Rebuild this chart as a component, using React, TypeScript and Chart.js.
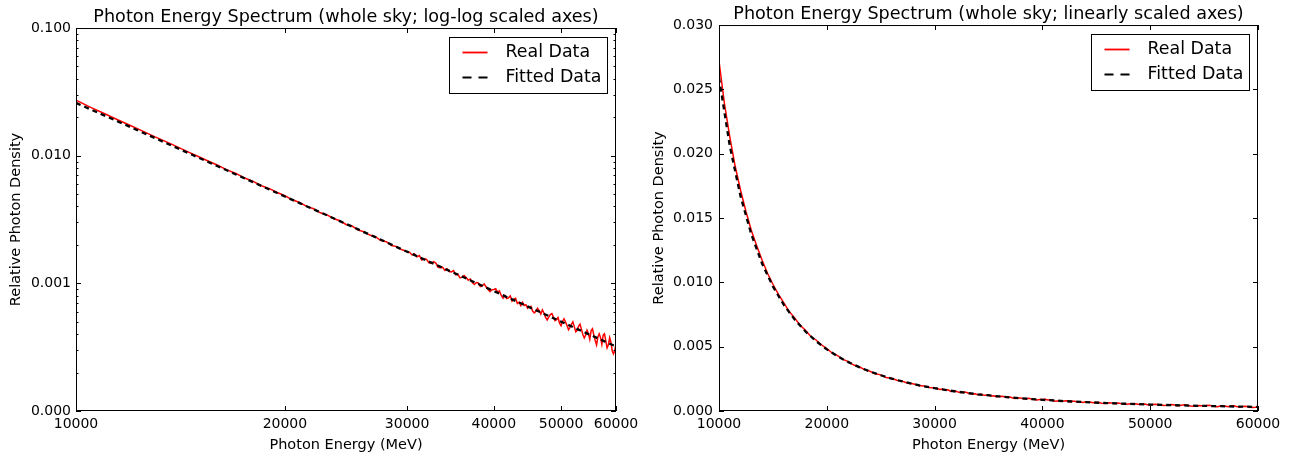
import React, { useEffect, useRef } from "react";
import { Chart, registerables } from "chart.js";

Chart.register(...registerables);

// ---------- data ----------
const energies = [
  10000, 10500, 11000, 11500, 12000, 12500, 13000, 13500, 14000, 14500,
  15000, 15500, 16000, 16500, 17000, 17500, 18000, 18500, 19000, 19500,
  20000, 20500, 21000, 21500, 22000, 22500, 23000, 23500, 24000, 24500,
  25000, 25500, 26000, 26500, 27000, 27500, 28000, 28500, 29000, 29500,
  30000, 30250, 30500, 30750, 31000, 31250, 31500, 31750, 32000, 32250,
  32500, 32750, 33000, 33250, 33500, 33750, 34000, 34250, 34500, 34750,
  35000, 35250, 35500, 35750, 36000, 36250, 36500, 36750, 37000, 37250,
  37500, 37750, 38000, 38250, 38500, 38750, 39000, 39250, 39500, 39750,
  40000, 40250, 40500, 40750, 41000, 41250, 41500, 41750, 42000, 42250,
  42500, 42750, 43000, 43250, 43500, 43750, 44000, 44250, 44500, 44750,
  45000, 45250, 45500, 45750, 46000, 46250, 46500, 46750, 47000, 47250,
  47500, 47750, 48000, 48250, 48500, 48750, 49000, 49250, 49500, 49750,
  50000, 50250, 50500, 50750, 51000, 51250, 51500, 51750, 52000, 52250,
  52500, 52750, 53000, 53250, 53500, 53750, 54000, 54250, 54500, 54750,
  55000, 55250, 55500, 55750, 56000, 56250, 56500, 56750, 57000, 57250,
  57500, 57750, 58000, 58250, 58500, 58750, 59000, 59250, 59500, 59750,
  60000,
];

const realDensity = [
  0.0272, 0.02392, 0.02131, 0.01902, 0.01716, 0.01551, 0.01403, 0.01284, 0.01172, 0.01071,
  0.00985, 0.00908, 0.00842, 0.00774, 0.00726, 0.00668, 0.00629, 0.00581, 0.00552, 0.00515,
  0.00485, 0.00451, 0.0043, 0.00401, 0.00384, 0.00357, 0.00344, 0.00322, 0.00309, 0.00289,
  0.00281, 0.00261, 0.00254, 0.00239, 0.00232, 0.00216, 0.00212, 0.00198, 0.00194, 0.00183,
  0.00178, 0.00175, 0.00167, 0.0017, 0.001614, 0.00165, 0.001523, 0.001555, 0.00154, 0.00145,
  0.001436, 0.00148, 0.00144, 0.001334, 0.001323, 0.001338, 0.001261, 0.0013, 0.001238, 0.00123,
  0.001258, 0.001166, 0.001182, 0.001104, 0.001119, 0.001154, 0.001112, 0.001059, 0.001082, 0.001014,
  0.000979, 0.001014, 0.001008, 0.000943, 0.000956, 0.000988, 0.000935, 0.000893, 0.000861, 0.000892,
  0.000896, 0.000908, 0.000852, 0.000873, 0.000803, 0.000766, 0.000802, 0.000759, 0.000771, 0.000797,
  0.000726, 0.000752, 0.000763, 0.000695, 0.000713, 0.000669, 0.000709, 0.000671, 0.000681, 0.000639,
  0.000657, 0.00066, 0.000607, 0.000587, 0.000604, 0.000638, 0.000612, 0.000574, 0.00062, 0.000583,
  0.000542, 0.000517, 0.000544, 0.00057, 0.000579, 0.000545, 0.000511, 0.00052, 0.00054, 0.000487,
  0.000466, 0.000505, 0.000528, 0.000497, 0.000467, 0.000433, 0.000452, 0.000478, 0.0005, 0.000458,
  0.000417, 0.000429, 0.000463, 0.000479, 0.000436, 0.000397, 0.000373, 0.000393, 0.000429, 0.000404,
  0.000364, 0.000426, 0.000441, 0.000391, 0.000356, 0.000329, 0.000381, 0.000403, 0.000376, 0.000333,
  0.000393, 0.000403, 0.000354, 0.000312, 0.00033, 0.000376, 0.000346, 0.000296, 0.00028, 0.000297,
  0.000336,
];

const fitEnergies = [
  10000, 11000, 12000, 13000, 14000, 15000, 16000, 17000, 18000, 19000,
  20000, 21000, 22000, 23000, 24000, 25000, 26000, 27000, 28000, 29000,
  30000, 32000, 34000, 36000, 38000, 40000, 42000, 44000, 46000, 48000,
  50000, 52000, 54000, 56000, 58000, 60000,
];

const fitDensity = [
  0.0259, 0.0206, 0.01668, 0.01372, 0.01145, 0.00968, 0.00827, 0.00713, 0.0062, 0.00543,
  0.00479, 0.00425, 0.0038, 0.00341, 0.00307, 0.00278, 0.00252, 0.0023, 0.0021, 0.00192,
  0.00177, 0.00151, 0.0013, 0.00113, 0.000988, 0.00087, 0.000771, 0.000688, 0.000616, 0.000555,
  0.000501, 0.000455, 0.000414, 0.000379, 0.000347, 0.00032,
];

const xTicks = [10000, 20000, 30000, 40000, 50000, 60000];
const logYTicks = [0.0001, 0.001, 0.01, 0.1];
const logYMinor = [
  0.0002, 0.0003, 0.0004, 0.0005, 0.0006, 0.0007, 0.0008, 0.0009,
  0.002, 0.003, 0.004, 0.005, 0.006, 0.007, 0.008, 0.009,
  0.02, 0.03, 0.04, 0.05, 0.06, 0.07, 0.08, 0.09,
];
const linYTicks = [0, 0.005, 0.01, 0.015, 0.02, 0.025, 0.03];

const seriesLabels = ["Real Data", "Fitted Data"];

// ---------- style ----------
const FAMILY = "'DejaVu Sans', 'Bitstream Vera Sans', sans-serif";

const framePlugin = {
  id: "frame",
  afterDraw(chart: any, _args: any, opts: any) {
    const { ctx, chartArea: a } = chart;
    const xs = chart.scales.x;
    const ys = chart.scales.y;
    ctx.save();
    ctx.strokeStyle = "#000";
    ctx.lineWidth = 1;
    ctx.strokeRect(a.left + 0.5, a.top + 0.5, a.right - a.left - 1, a.bottom - a.top - 1);
    const major = 5;
    const minor = 2.5;
    ctx.beginPath();
    for (const v of opts.xMajor || []) {
      const p = Math.round(xs.getPixelForValue(v)) + 0.5;
      ctx.moveTo(p, a.bottom);
      ctx.lineTo(p, a.bottom - major);
      ctx.moveTo(p, a.top);
      ctx.lineTo(p, a.top + major);
    }
    for (const v of opts.yMajor || []) {
      const p = Math.round(ys.getPixelForValue(v)) + 0.5;
      ctx.moveTo(a.left, p);
      ctx.lineTo(a.left + major, p);
      ctx.moveTo(a.right, p);
      ctx.lineTo(a.right - major, p);
    }
    for (const v of opts.yMinor || []) {
      const p = Math.round(ys.getPixelForValue(v)) + 0.5;
      ctx.moveTo(a.left, p);
      ctx.lineTo(a.left + minor, p);
      ctx.moveTo(a.right, p);
      ctx.lineTo(a.right - minor, p);
    }
    ctx.stroke();

    // legend box
    const w = 158;
    const h = 56;
    const bx = Math.round(a.right - 9 - w) + 0.5;
    const by = Math.round(a.top + 9) + 0.5;
    ctx.fillStyle = "#fff";
    ctx.fillRect(bx, by, w, h);
    ctx.strokeStyle = "#000";
    ctx.lineWidth = 1;
    ctx.strokeRect(bx, by, w, h);
    const rows = [by + 15, by + 40];
    ctx.beginPath();
    ctx.strokeStyle = "#ff0000";
    ctx.lineWidth = 1.8;
    ctx.moveTo(bx + 13, rows[0]);
    ctx.lineTo(bx + 38, rows[0]);
    ctx.stroke();
    ctx.beginPath();
    ctx.strokeStyle = "#000";
    ctx.lineWidth = 2;
    ctx.setLineDash([9, 7]);
    ctx.moveTo(bx + 13, rows[1]);
    ctx.lineTo(bx + 38, rows[1]);
    ctx.stroke();
    ctx.setLineDash([]);
    ctx.fillStyle = "#000";
    ctx.font = `17.4px ${FAMILY}`;
    ctx.textBaseline = "middle";
    ctx.textAlign = "left";
    ctx.fillText(seriesLabels[0], bx + 56, rows[0]);
    ctx.fillText(seriesLabels[1], bx + 56, rows[1]);
    ctx.restore();
  },
};

function makeConfig(kind: "log" | "lin"): any {
  const isLog = kind === "log";
  const tickFont = { family: FAMILY, size: 14 };
  const labelFont = { family: FAMILY, size: 14.5 };
  return {
    type: "line",
    data: {
      datasets: [
        {
          label: seriesLabels[1],
          data: fitEnergies.map((x, i) => ({ x, y: fitDensity[i] })),
          borderColor: "#000",
          borderWidth: 2.3,
          borderDash: [5, 4],
          pointRadius: 0,
          order: 0,
        },
        {
          label: seriesLabels[0],
          data: energies.map((x, i) => ({ x, y: realDensity[i] })),
          borderColor: "#ff0000",
          borderWidth: 1.5,
          pointRadius: 0,
          order: 1,
        },
      ],
    },
    options: {
      animation: false,
      responsive: false,
      maintainAspectRatio: false,
      events: [],
      layout: {
        autoPadding: false,
        padding: { left: 0, right: isLog ? 32 : 38, top: 0, bottom: 0 },
      },
      plugins: {
        legend: { display: false },
        tooltip: { enabled: false },
        title: {
          display: true,
          fullSize: false,
          text: isLog
            ? "Photon Energy Spectrum (whole sky; log-log scaled axes)"
            : "Photon Energy Spectrum (whole sky; linearly scaled axes)",
          color: "#000",
          font: { family: FAMILY, size: 17.6, weight: "normal" },
          padding: isLog ? { top: 6.4, bottom: 0.5 } : { top: 3.4, bottom: 0.5 },
        },
        frame: {
          xMajor: xTicks,
          yMajor: isLog ? logYTicks : linYTicks,
          yMinor: isLog ? logYMinor : [],
        },
      },
      scales: {
        x: {
          type: isLog ? "logarithmic" : "linear",
          min: 10000,
          max: 60000,
          afterBuildTicks: (s: any) => {
            s.ticks = xTicks.map((v) => ({ value: v }));
          },
          afterFit: (s: any) => {
            s.height = 46;
          },
          ticks: {
            callback: (v: any) => String(v),
            font: tickFont,
            color: "#000",
            padding: 5,
            maxRotation: 0,
            autoSkip: false,
          },
          grid: { display: false, drawTicks: false },
          border: { display: false },
          title: {
            display: true,
            text: "Photon Energy (MeV)",
            color: "#000",
            font: labelFont,
            padding: { top: 0, bottom: 3.3 },
          },
        },
        y: {
          type: isLog ? "logarithmic" : "linear",
          min: isLog ? 0.0001 : 0,
          max: isLog ? 0.1 : 0.03,
          afterBuildTicks: (s: any) => {
            s.ticks = (isLog ? logYTicks : linYTicks).map((v) => ({ value: v }));
          },
          afterFit: (s: any) => {
            s.width = isLog ? 76 : 71;
          },
          ticks: {
            callback: (v: any) => Number(v).toFixed(3),
            font: tickFont,
            color: "#000",
            padding: isLog ? 5 : 6,
            autoSkip: false,
          },
          grid: { display: false, drawTicks: false },
          border: { display: false },
          title: {
            display: true,
            text: "Relative Photon Density",
            color: "#000",
            font: labelFont,
            padding: { top: isLog ? 7.4 : 3, bottom: 0 },
          },
        },
      },
    },
    plugins: [framePlugin],
  };
}

function ChartPanel({ kind, left }: { kind: "log" | "lin"; left: number }) {
  const ref = useRef<HTMLCanvasElement | null>(null);
  useEffect(() => {
    if (!ref.current) return;
    const chart = new Chart(ref.current, makeConfig(kind));
    return () => chart.destroy();
  }, [kind]);
  return (
    <canvas
      ref={ref}
      width={648}
      height={457}
      style={{ position: "absolute", left, top: 0, width: 648, height: 457 }}
    />
  );
}

export default function App() {
  return (
    <div
      style={{
        position: "fixed",
        left: 0,
        top: 0,
        width: 1296,
        height: 457,
        background: "#fff",
      }}
    >
      <ChartPanel kind="log" left={0} />
      <ChartPanel kind="lin" left={648} />
    </div>
  );
}
